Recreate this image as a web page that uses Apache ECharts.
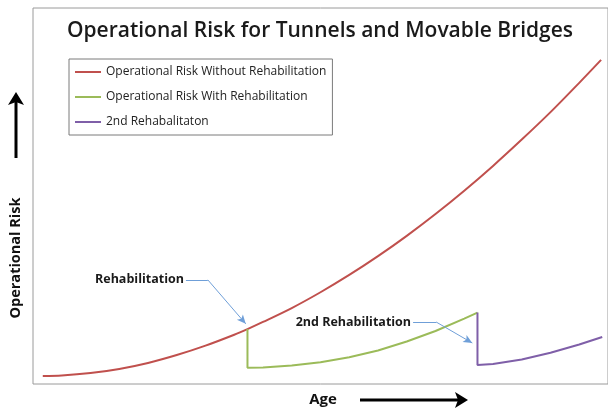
<!DOCTYPE html>
<html>
<head>
<meta charset="utf-8">
<script src="https://cdn.jsdelivr.net/npm/echarts@6/dist/echarts.min.js"></script>
<style>html,body{margin:0;padding:0;background:#fff}#c{width:608px;height:410px}</style>
</head>
<body>
<div id="c"></div>
<script>
// Data (Age 0-100, Risk 0-100, arbitrary units)
var redAge  = [1.7, 5, 10, 15, 20, 25, 30, 35, 37.3, 40, 45, 50, 55, 60, 65, 70, 75, 80, 85, 90, 95, 98.8];
var redRisk = [2.1, 2.24, 2.9, 4.0, 5.6, 7.7, 10.2, 13.1, 14.6, 16.5, 20.2, 24.4, 29.0, 34.0, 39.4, 45.2, 51.4, 58.0, 65.0, 72.3, 80.1, 86.2];
var greenAge  = [37.3, 37.3, 40, 45, 50, 55, 60, 65, 70, 75, 77.3];
var greenRisk = [14.6, 4.3, 4.4, 4.9, 5.8, 7.1, 8.9, 11.3, 14.1, 17.4, 19.0];
var purpleAge  = [77.3, 77.3, 80, 85, 90, 95, 99];
var purpleRisk = [19.0, 5.05, 5.3, 6.5, 8.3, 10.5, 12.5];
var seriesNames = ['Operational Risk Without Rehabilitation', 'Operational Risk With Rehabilitation', '2nd Rehabalitaton'];
var titleText = 'Operational Risk for Tunnels and Movable Bridges';
var xName = 'Age', yName = 'Operational Risk';
// annotations: text, end of text, bend of leader, arrow tip
var annRehab = {text: 'Rehabilitation', end: [26.6, 27.7], bend: [30.4, 27.7], tip: [37.0, 16.0]};
var annRehab2 = {text: '2nd Rehabilitation', end: [66.1, 16.5], bend: [70.1, 16.5], tip: [76.4, 10.9]};

function pairs(a, b) { return a.map(function (v, i) { return [v, b[i]]; }); }

var annColor = '#6f9fd8';
function annLines(a) {
  return [
    [{coord: a.end, symbol: 'none'}, {coord: a.bend, symbol: 'none'}],
    [{coord: a.bend, symbol: 'none'}, {coord: a.tip, symbol: 'arrow', symbolSize: [6, 9]}]
  ];
}
function annPoint(a) { return {coord: a.end, value: a.text}; }

var chart = echarts.init(document.getElementById('c'));
var font = 'Open Sans';
chart.setOption({
  animation: false,
  title: {
    text: titleText, left: 62, top: 16,
    textStyle: {fontFamily: font, fontSize: 21, fontWeight: 600, color: '#1a1a1a'}
  },
  legend: {
    orient: 'vertical', left: 69, top: 59,
    data: seriesNames,
    icon: 'rect', itemWidth: 26, itemHeight: 2, itemGap: 11,
    padding: [6, 6, 6, 6],
    borderColor: '#7a7a7a', borderWidth: 1,
    textStyle: {fontFamily: font, fontSize: 12, color: '#222', lineHeight: 14}
  },
  grid: {left: 33, top: 8, right: -1, bottom: 26, show: true, borderColor: '#9a9a9a', borderWidth: 1},
  xAxis: {type: 'value', min: 0, max: 100, show: false},
  yAxis: {type: 'value', min: 0, max: 100, show: false},
  series: [
    {
      name: seriesNames[0], type: 'line', data: pairs(redAge, redRisk), showSymbol: false, smooth: 0.3,
      lineStyle: {color: '#c0504d', width: 2}, itemStyle: {color: '#c0504d'},
      markLine: {silent: true, animation: false, label: {show: false},
        lineStyle: {color: annColor, width: 1, type: 'solid'},
        data: annLines(annRehab).concat(annLines(annRehab2))},
      markPoint: {silent: true, symbol: 'circle', symbolSize: 0,
        label: {show: true, position: 'left', distance: 2, formatter: '{c}',
          fontFamily: font, fontSize: 12.5, fontWeight: 'bold', color: '#1a1a1a'},
        data: [annPoint(annRehab), annPoint(annRehab2)]}
    },
    {
      name: seriesNames[1], type: 'line', data: pairs(greenAge, greenRisk), showSymbol: false,
      lineStyle: {color: '#9bbb59', width: 2}, itemStyle: {color: '#9bbb59'}
    },
    {
      name: seriesNames[2], type: 'line', data: pairs(purpleAge, purpleRisk), showSymbol: false,
      lineStyle: {color: '#7f5fa8', width: 2}, itemStyle: {color: '#7f5fa8'}
    }
  ],
  graphic: [
    {type: 'text', x: 323, y: 400, style: {text: xName, font: 'bold 15px "Open Sans"', fill: '#111', textAlign: 'center', textVerticalAlign: 'middle'}},
    {type: 'line', shape: {x1: 360, y1: 400, x2: 458, y2: 400}, style: {stroke: '#000', lineWidth: 3}},
    {type: 'polygon', shape: {points: [[468, 400], [455, 392], [458, 400], [455, 408]]}, style: {fill: '#000'}},
    {type: 'text', x: 16, y: 258, rotation: Math.PI / 2, style: {text: yName, font: 'bold 14.5px "Open Sans"', fill: '#111', textAlign: 'center', textVerticalAlign: 'middle'}},
    {type: 'line', shape: {x1: 16, y1: 158, x2: 16, y2: 102}, style: {stroke: '#000', lineWidth: 3}},
    {type: 'polygon', shape: {points: [[16, 92], [8, 105], [16, 102], [24, 105]]}, style: {fill: '#000'}}
  ]
});
</script>
</body>
</html>
